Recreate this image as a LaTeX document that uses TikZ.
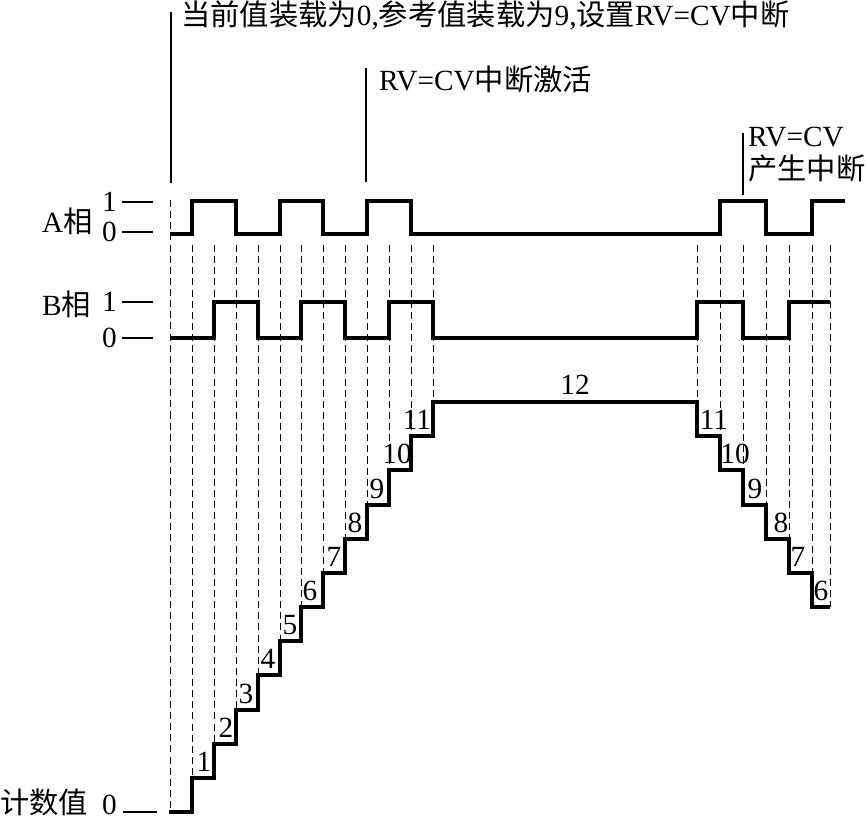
\documentclass[tikz,border=0pt]{standalone}
\usepackage{fontspec}
\setmainfont{Liberation Serif}
\newfontfamily\cjk{Noto Sans CJK SC}
\usepackage{tikz}

\begin{document}
\begin{tikzpicture}[x=0.03cm, y=-0.03cm,
  every node/.style={font=\fontsize{25}{29}\selectfont, inner sep=0pt},
  wave/.style={line width=2.6pt},
  grid/.style={line width=0.7pt, dash pattern=on 6pt off 3.5pt},
  tick/.style={line width=1pt},
  pointer/.style={line width=1pt}]
  \useasboundingbox (0,0) rectangle (866,822);

  % annotations
  \node [anchor=base west] (load) at (181,26) {{\cjk 当前值装载为}0,{\cjk 参考值装载为}9,{\cjk 设置}RV=CV{\cjk 中断}};
  \node [anchor=base west] (act) at (379,91) {RV=CV{\cjk 中断激活}};
  \node [anchor=base west, align=left] (irq) at (748,180) {RV=CV\\{\cjk 产生中断}};
  \coordinate (p0) at (171,12);
  \coordinate (p0e) at (171,183);
  \coordinate (p1) at (366,68);
  \coordinate (p1e) at (366,182);
  \coordinate (p2) at (743,133);
  \coordinate (p2e) at (743,195);
  \draw [pointer] (p0) -- (p0e);
  \draw [pointer] (p1) -- (p1e);
  \draw [pointer] (p2) -- (p2e);

  % left labels
  \node [anchor=west] (A) at (42,221) {A{\cjk 相}};
  \node [anchor=east] (A1) at (117,202) {1};
  \node [anchor=east] (A0) at (117,232) {0};
  \node [anchor=west] (B) at (42,304) {B{\cjk 相}};
  \node [anchor=east] (B1) at (117,302) {1};
  \node [anchor=east] (B0) at (117,338) {0};
  \node [anchor=west] (cnt) at (0,802) {\cjk 计数值};
  \node [anchor=east] (C0) at (117,805) {0};
  \draw [tick] (122,202) -- (153,202);
  \draw [tick] (122,232) -- (153,232);
  \draw [tick] (122,302) -- (153,302);
  \draw [tick] (122,338) -- (153,338);
  \draw [tick] (123,812) -- (157,812);

  % phase A and phase B
  \draw [wave] (170,234) -- (192,234) |- (236,201) |- (280,234) |- (323,201) |- (367,234)
    |- (411,201) |- (720,234) |- (766,201) |- (812,234) |- (845,201);
  \draw [wave] (170,338) -- (214,338) |- (258,302) |- (301,338) |- (345,302) |- (389,338)
    |- (433,302) |- (697,338) |- (743,302) |- (789,338) |- (830,302);

  % dashed guide lines
  \draw [grid] (170,200) -- (170,812);
  \draw [grid] (192,245) -- (192,778);
  \draw [grid] (214,245) -- (214,744);
  \draw [grid] (236,245) -- (236,710);
  \draw [grid] (258,245) -- (258,675);
  \draw [grid] (280,245) -- (280,641);
  \draw [grid] (301,245) -- (301,607);
  \draw [grid] (323,245) -- (323,573);
  \draw [grid] (345,245) -- (345,539);
  \draw [grid] (367,245) -- (367,505);
  \draw [grid] (389,245) -- (389,470);
  \draw [grid] (411,245) -- (411,436);
  \draw [grid] (433,245) -- (433,402);
  \draw [grid] (697,245) -- (697,402);
  \draw [grid] (720,245) -- (720,436);
  \draw [grid] (743,245) -- (743,470);
  \draw [grid] (766,245) -- (766,505);
  \draw [grid] (789,245) -- (789,539);
  \draw [grid] (812,245) -- (812,573);
  \draw [grid] (830,245) -- (830,607);

  % counter value
  \draw [wave] (169,812) -- (192,812) |- (214,778) |- (236,744) |- (258,710) |- (280,675)
    |- (301,641) |- (323,607) |- (345,573) |- (367,539) |- (389,505) |- (411,470)
    |- (433,436) |- (697,402) |- (720,436) |- (743,470) |- (766,505) |- (789,539)
    |- (812,573) |- (830,607);
  \node [anchor=base] (n1) at (204,771) {1};
  \node [anchor=base] (n2) at (226,737) {2};
  \node [anchor=base] (n3) at (246,703) {3};
  \node [anchor=base] (n4) at (268,668) {4};
  \node [anchor=base] (n5) at (290,634) {5};
  \node [anchor=base] (n6) at (310,600) {6};
  \node [anchor=base] (n7) at (334,566) {7};
  \node [anchor=base] (n8) at (355,532) {8};
  \node [anchor=base] (n9) at (377,498) {9};
  \node [anchor=base] (n10) at (397,463) {10};
  \node [anchor=base] (n11) at (417,429) {11};
  \node [anchor=base] (n12) at (575,395) {12};
  \node [anchor=base] (m11) at (714,429) {11};
  \node [anchor=base] (m10) at (735,463) {10};
  \node [anchor=base] (m9) at (755,498) {9};
  \node [anchor=base] (m8) at (781,532) {8};
  \node [anchor=base] (m7) at (798,566) {7};
  \node [anchor=base] (m6) at (821,600) {6};
\end{tikzpicture}
\end{document}
